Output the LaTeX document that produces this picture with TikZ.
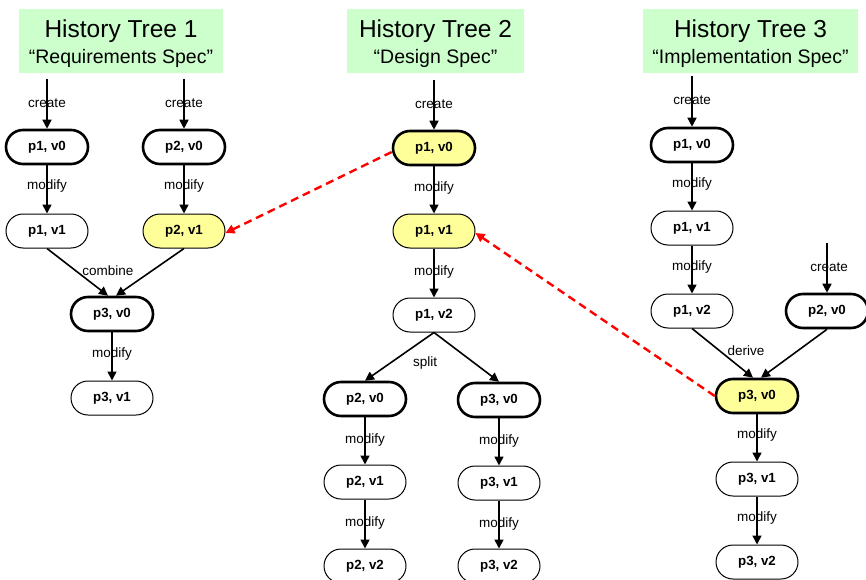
\documentclass[tikz,border=0pt]{standalone}
\usepackage{fontspec}
\setmainfont{Liberation Sans}
\usetikzlibrary{arrows.meta}
\definecolor{titlegreen}{RGB}{204,255,204}
\definecolor{pale}{RGB}{255,255,153}
\definecolor{linkred}{RGB}{255,0,0}
\begin{document}
\begin{tikzpicture}[x=1pt,y=-1pt,
  titlebox/.style={fill=titlegreen, draw=none, minimum height=64pt, inner sep=0pt},
  titletext/.style={inner sep=0pt, align=center},
  ver/.style={draw=black, line width=1pt, rounded corners=17pt, minimum width=82pt, minimum height=34pt,
    inner sep=0pt, font=\fontsize{13.3}{15}\selectfont\bfseries, fill=white},
  root/.style={ver, line width=2.6pt},
  hot/.style={fill=pale},
  lbl/.style={inner sep=0pt, font=\fontsize{13.5}{15}\selectfont},
  flow/.style={line width=1.6pt, -{Triangle[length=9pt,width=9pt]}},
  trace/.style={linkred, line width=2.4pt, dash pattern=on 8pt off 5pt, -{Triangle[length=9pt,width=9pt]}}]
\useasboundingbox (0,0) rectangle (866,580);

% title boxes
\node[titlebox, minimum width=204pt] (t1) at (121,41) {};
\node[titletext] (t1t) at (121,43.5)
  {\fontsize{24.5}{25}\selectfont History Tree 1\\[6pt]\fontsize{19.5}{22}\selectfont “Requirements Spec”};
\node[titlebox, minimum width=177pt] (t2) at (435.5,41) {};
\node[titletext] (t2t) at (435.5,43.5)
  {\fontsize{24.5}{25}\selectfont History Tree 2\\[6pt]\fontsize{19.5}{22}\selectfont “Design Spec”};
\node[titlebox, minimum width=215pt] (t3) at (750.5,41) {};
\node[titletext] (t3t) at (750.5,43.5)
  {\fontsize{24.5}{25}\selectfont History Tree 3\\[6pt]\fontsize{19.5}{22}\selectfont “Implementation Spec”};

% tree 1
\node[root] (a1) at (47,147) {p1, v0};
\node[root] (b1) at (184,147) {p2, v0};
\node[ver] (a2) at (47,231) {p1, v1};
\node[ver, hot] (b2) at (184,231) {p2, v1};
\node[root] (c1) at (112,314) {p3, v0};
\node[ver] (c2) at (112,398) {p3, v1};
\coordinate (sa) at (47,79);
\coordinate (sb) at (184,79);

% tree 2
\node[root, hot] (d0) at (434,148) {p1, v0};
\node[ver, hot] (d1) at (434,231) {p1, v1};
\node[ver] (d2) at (434,315) {p1, v2};
\node[root] (e0) at (365,399) {p2, v0};
\node[root] (f0) at (499,400) {p3, v0};
\node[ver] (e1) at (365,482) {p2, v1};
\node[ver] (f1) at (499,483) {p3, v1};
\node[ver] (e2) at (365,566) {p2, v2};
\node[ver] (f2) at (499,566) {p3, v2};
\coordinate (sd) at (434,80);

% tree 3
\node[root] (g0) at (692,145) {p1, v0};
\node[ver] (g1) at (692,228) {p1, v1};
\node[ver] (g2) at (692,311) {p1, v2};
\node[root] (h0) at (827,311) {p2, v0};
\node[root, hot] (k0) at (757,396) {p3, v0};
\node[ver] (k1) at (757,479) {p3, v1};
\node[ver] (k2) at (757,562) {p3, v2};
\coordinate (sg) at (692,76);
\coordinate (sh) at (827,243);

% version edges
\draw[flow] (sa) -- (a1);
\draw[flow] (sb) -- (b1);
\draw[flow] (a1) -- (a2);
\draw[flow] (b1) -- (b2);
\draw[flow] (a2.south) -- ([xshift=-4pt]c1.north);
\draw[flow] (b2.south) -- ([xshift=4pt]c1.north);
\draw[flow] (c1) -- (c2);

\draw[flow] (sd) -- (d0);
\draw[flow] (d0) -- (d1);
\draw[flow] (d1) -- (d2);
\draw[flow] (d2.south) -- (e0.north);
\draw[flow] (d2.south) -- (f0.north);
\draw[flow] (e0) -- (e1);
\draw[flow] (e1) -- (e2);
\draw[flow] (f0) -- (f1);
\draw[flow] (f1) -- (f2);

\draw[flow] (sg) -- (g0);
\draw[flow] (g0) -- (g1);
\draw[flow] (g1) -- (g2);
\draw[flow] (sh) -- (h0);
\draw[flow] (g2.south) -- ([xshift=-4pt]k0.north);
\draw[flow] (h0.south) -- ([xshift=4pt]k0.north);
\draw[flow] (k0) -- (k1);
\draw[flow] (k1) -- (k2);

% edge labels
\node[lbl] (l1) at (47,103) {create};
\node[lbl] (l2) at (184,103) {create};
\node[lbl] (l3) at (47,186) {modify};
\node[lbl] (l4) at (184,186) {modify};
\node[lbl] (l5) at (108,271) {combine};
\node[lbl] (l6) at (112,354) {modify};

\node[lbl] (l7) at (434,104) {create};
\node[lbl] (l8) at (434,188) {modify};
\node[lbl] (l9) at (434,272) {modify};
\node[lbl] (l10) at (425,363) {split};
\node[lbl] (l11) at (365,440) {modify};
\node[lbl] (l12) at (499,441) {modify};
\node[lbl] (l13) at (365,523) {modify};
\node[lbl] (l14) at (499,524) {modify};

\node[lbl] (l15) at (692,100) {create};
\node[lbl] (l16) at (692,184) {modify};
\node[lbl] (l17) at (692,267) {modify};
\node[lbl] (l18) at (829,267) {create};
\node[lbl] (l19) at (746,351) {derive};
\node[lbl] (l20) at (757,435) {modify};
\node[lbl] (l21) at (757,518) {modify};

% cross-tree trace links
\draw[trace] ([yshift=-4pt]d0.west) -- ([yshift=-2pt]b2.east);
\draw[trace] (k0.west) -- ([yshift=-2pt]d1.east);
\end{tikzpicture}
\end{document}
